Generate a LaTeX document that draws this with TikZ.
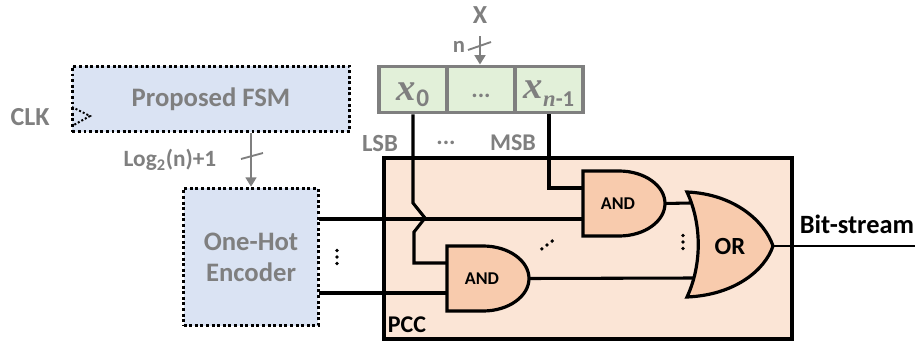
\documentclass[tikz,border=0pt]{standalone}
\usepackage{fontspec}
\setmainfont{Carlito}
\newfontfamily\cellfont{Liberation Serif}
\usetikzlibrary{arrows.meta}
\definecolor{fsmblue}{HTML}{DAE3F3}
\definecolor{reggreen}{HTML}{E2F0D9}
\definecolor{pccfill}{HTML}{FBE5D6}
\definecolor{gatefill}{HTML}{F8CBAD}
\definecolor{txtgray}{HTML}{7F7F7F}
\newcommand{\cellx}{{\cellfont\bfseries\itshape\fontsize{29}{29}\selectfont x}}
\tikzset{
	dotbox/.style={draw=black, fill=fsmblue, line width=2.4pt, dash pattern=on 2.2pt off 2pt, text=txtgray, font=\fontsize{20}{23.25}\selectfont\bfseries, align=center, inner sep=0pt},
	regbox/.style={draw=txtgray, fill=reggreen, line width=2.4pt, text=txtgray, minimum width=51pt, minimum height=35pt, inner sep=0pt},
	graylabel/.style={text=txtgray, font=\fontsize{#1}{#1}\selectfont\bfseries, inner sep=0pt},
	graylabel/.default=18,
	blacklabel/.style={font=\fontsize{#1}{#1}\selectfont\bfseries, inner sep=0pt},
	wire/.style={line width=2.3pt, line join=miter},
	graywire/.style={draw=txtgray, line width=2.2pt, -{Triangle[length=7pt,width=8pt]}},
	busmark/.style={draw=txtgray, line width=1.4pt},
	gateline/.style={draw=black, fill=gatefill, line width=2.4pt, line join=miter},
	andgate/.pic={
		\draw[gateline] (0,0) -- (0,65) -- (36,65) .. controls (62,65) and (82,50) .. (82,32.5) .. controls (82,15) and (62,0) .. (36,0) -- cycle;
		\node[blacklabel=13.5] (-label) at (35,32.5) {AND};
		\coordinate (-upper) at (0,17);
		\coordinate (-lower) at (0,48);
		\coordinate (-out) at (82,32.5);
	}
}
\begin{document}
\begin{tikzpicture}[x=0.75pt,y=-0.75pt]
	\useasboundingbox (0,0) rectangle (915,343);
	% input word
	\node[regbox] (regA) at (413,89.5) {\smash{\raisebox{-8pt}{\cellx\raisebox{-5pt}{\fontsize{19}{19}\selectfont\bfseries 0}}}};
	\node[regbox] (regB) at (481,89.5) {\smash{\raisebox{-6pt}{\fontsize{18}{18}\selectfont\bfseries ...}}};
	\node[regbox] (regC) at (549,89.5) {\smash{\raisebox{-6.5pt}{\cellx\raisebox{-6pt}{\fontsize{17}{17}\selectfont\bfseries{\cellfont\itshape n}-1}}}};
	\node[graylabel=19.5] (xlabel) at (480,15) {X};
	\node[graylabel=17] (nlabel) at (459,47) {n};
	\coordinate (xin) at (480,36);
	\coordinate (xtickA) at (468,50);
	\coordinate (xtickB) at (491,42);
	\draw[graywire] (xin) -- (regB.north -| xin);
	\draw[busmark] (xtickA) -- (xtickB);
	\node[graylabel=18.5] (lsb) at (380,143) {LSB};
	\node[graylabel] (gapdots) at (446,143) {...};
	\node[graylabel] (msb) at (513,143) {MSB};
	% FSM and encoder
	\node[dotbox, minimum width=208pt, minimum height=49pt] (fsm) at (211,99) {Proposed FSM};
	\node[dotbox, minimum width=101pt, minimum height=103pt] (enc) at (251,257) {One-Hot\\Encoder};
	\node[graylabel=19.5] (clk) at (30,117) {CLK};
	\coordinate (clkA) at (72,107);
	\coordinate (clkB) at (90,116);
	\coordinate (clkC) at (72,126);
	\draw[line width=1.5pt, dash pattern=on 1.5pt off 1.5pt] (clkA) -- (clkB) -- (clkC);
	\draw[graywire] (fsm.south -| enc.north) -- (enc.north);
	\coordinate (ftickA) at (241,159);
	\coordinate (ftickB) at (263,153);
	\draw[busmark] (ftickA) -- (ftickB);
	\node[graylabel=17.5] (loglabel) at (170,160) {Log\textsubscript{2}(n)+1};
	% PCC block
	\node[draw=black, fill=pccfill, line width=2.6pt, minimum width=306pt, minimum height=135.75pt, inner sep=0pt] (pcc) at (588,248.5) {};
	\node[blacklabel=18] (pcclabel) at (407,325) {PCC};
	\pic (gateA) at (583,171) {andgate};
	\pic (gateB) at (447,246) {andgate};
	\draw[gateline] (687,192) .. controls (735,194) and (765,222) .. (773,246) .. controls (765,270) and (735,295) .. (687,297) .. controls (702,265) and (702,224) .. (687,192) -- cycle;
	\node[blacklabel=18.5] (orlabel) at (730,246) {OR};
	\coordinate (orin) at (690,203);
	\coordinate (orinB) at (693,278);
	\coordinate (orout) at (773,246);
	\coordinate (bitout) at (915,246);
	\node[blacklabel=19.8] (bitlabel) at (857,224) {Bit-stream};
	% wires
	\coordinate (bumpA) at (413,203);
	\coordinate (bumpB) at (425,218);
	\coordinate (bumpC) at (414,232);
	\coordinate (encA) at (319,219);
	\coordinate (encB) at (319,293);
	\draw[wire] (regA.south) -- (bumpA) -- (bumpB) -- (bumpC) -- (bumpC |- gateB-upper) -- (gateB-upper);
	\draw[wire] (regC.south) -- (gateA-upper -| regC.south) -- (gateA-upper);
	\draw[wire] (encA) -- (encA -| gateA-lower);
	\draw[wire] (encB) -- (encB -| gateB-lower);
	\draw[wire] (gateA-out) -- (orin);
	\draw[wire] (gateB-out) -- (orinB);
	\draw[line width=1.7pt] (orout) -- (bitout);
	% ellipsis marks
	\foreach \dy in {-6.5,0,6.5} {
		\fill (337,257+\dy) circle (1.9);
		\fill (683,242+\dy) circle (1.9);
		\fill (547+\dy*0.8,245-\dy*0.6) circle (1.9);
	}
\end{tikzpicture}
\end{document}
